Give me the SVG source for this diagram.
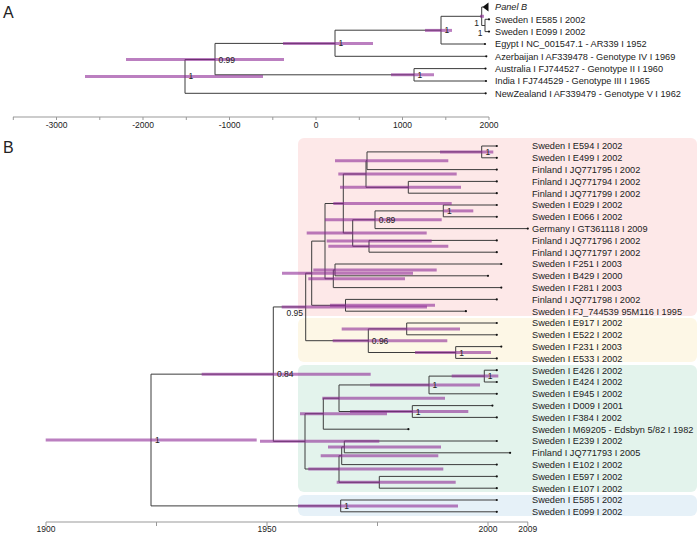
<svg xmlns="http://www.w3.org/2000/svg" width="700" height="534" viewBox="0 0 700 534">
<style>
text{font-family:"Liberation Sans",Arial,Helvetica,sans-serif;fill:#222}
.tl{font-size:9.2px}
.nl{font-size:8.5px}
.ax{font-size:8.5px;text-anchor:middle}
.pl{font-size:16px}
.br{stroke:#3c3c3c;stroke-width:1;fill:none}
.axl{stroke:#999;stroke-width:1;fill:none}
.hpd{stroke:#8e2a96;stroke-width:3;stroke-opacity:0.6}
.d{fill:#111}
</style>
<rect width="700" height="534" fill="#fff"/>
<text class="pl" x="3" y="18.3">A</text>
<text class="pl" x="3" y="152.7">B</text>
<!-- backgrounds -->
<g id="clade-backgrounds">
<rect x="298" y="138" width="399" height="178" rx="6" fill="#fde8e8"/>
<rect x="298" y="318" width="399" height="44" rx="6" fill="#fdf7e6"/>
<rect x="298" y="365" width="399" height="127" rx="6" fill="#e3f3ec"/>
<rect x="298" y="495" width="399" height="21" rx="6" fill="#e6f1f8"/>
</g>
<!-- axes -->
<g id="axis-a">
<path class="axl" d="M13,117H489 M13.3,117v3 M56.5,117v3 M99.8,117v3 M143,117v3 M186.3,117v3 M229.5,117v3 M272.8,117v3 M316,117v3 M359.3,117v3 M402.5,117v3 M445.8,117v3 M489,117v3"/>
<text class="ax" x="56.5" y="128">-3000</text>
<text class="ax" x="143" y="128">-2000</text>
<text class="ax" x="229.5" y="128">-1000</text>
<text class="ax" x="316" y="128">0</text>
<text class="ax" x="402.5" y="128">1000</text>
<text class="ax" x="489" y="128">2000</text>
</g>
<g id="axis-b">
<path class="axl" d="M46,522H528 M46,522v4 M156.5,522v4 M267,522v4 M377.5,522v4 M488,522v4 M527.8,522v4"/>
<text class="ax" x="46" y="532">1900</text>
<text class="ax" x="267" y="532">1950</text>
<text class="ax" x="488" y="532">2000</text>
<text class="ax" x="527.8" y="532">2009</text>
</g>
<!-- connectors -->
<g id="connectors">
<path class="br" d="M185,59.5V93.3 M185,59.5H215 M185,93.3H485.7 M215,43.4V74.8 M215,43.4H335 M215,74.8H414 M335,30.2V56.3 M335,30.2H441 M335,56.3H486.3 M441,16.3V44 M441,16.3H481.7 M441,44H485 M414,68.6V81 M414,68.6H485.5 M414,81H486 M481.7,7V25.5 M481.7,7H483 M481.7,25.5H485 M485,19.3V31.6 M485,19.3H489 M485,31.6H489"/>
<path class="br" d="M151,374.15V505.9 M151,374.15H273.3 M151,505.9H340.7
M273.3,306.95V441.35 M273.3,306.95H305.7 M273.3,441.35H305
M305.7,273.2V340.7 M305.7,273.2H311.7 M305.7,340.7H368.3
M311.7,241.1V305.3 M311.7,241.1H325 M311.7,305.3H345.5
M325,203.5V278.75 M325,203.5H343.3 M325,278.75H333.3
M343.3,174V233 M343.3,174H366 M343.3,233H352.7
M366,160.75V187.3 M366,160.75H367 M366,187.3H408.3
M367,151.9V169.6 M367,151.9H481.7 M367,169.6H496.8
M481.7,146V157.8 M481.7,146H496.8 M481.7,157.8H496.8
M408.3,181.4V193.2 M408.3,181.4H496.8 M408.3,193.2H496.8
M352.7,219.75V246.3 M352.7,219.75H375 M352.7,246.3H369
M375,210.9V228.6 M375,210.9H443.3 M375,228.6H527.8
M443.3,205V216.8 M443.3,205H496.8 M443.3,216.8H496.8
M369,240.4V252.2 M369,240.4H496.8 M369,252.2H496.8
M333.3,269.9V287.6 M333.3,269.9H335 M333.3,287.6H501.3
M335,264V275.8 M335,264H501.3 M335,275.8H488
M345.5,299.4V311.2 M345.5,299.4H496.8 M345.5,311.2H465.9
M368.3,328.9V352.5 M368.3,328.9H406.7 M368.3,352.5H455.7
M406.7,323V334.8 M406.7,323H496.8 M406.7,334.8H496.8
M455.7,346.6V358.4 M455.7,346.6H501.3 M455.7,358.4H496.8
M305,413.7V469 M305,413.7H323.3 M305,469H339
M323.3,398.2V429.2 M323.3,398.2H339 M323.3,429.2H408.4
M339,384.95V411.5 M339,384.95H429 M339,411.5H412.3
M429,376.1V393.8 M429,376.1H484.3 M429,393.8H496.8
M484.3,370.2V382 M484.3,370.2H496.8 M484.3,382H496.8
M412.3,405.6V417.4 M412.3,405.6H492.4 M412.3,417.4H496.8
M339,455.75V482.3 M339,455.75H341.7 M339,482.3H379.3
M341.7,446.9V464.6 M341.7,446.9H344.3 M341.7,464.6H496.8
M344.3,441V452.8 M344.3,441H496.8 M344.3,452.8H510.1
M379.3,476.4V488.2 M379.3,476.4H496.8 M379.3,488.2H496.8
M340.7,500V511.8 M340.7,500H496.8 M340.7,511.8H496.8"/>
</g>
<!-- Panel A internal nodes -->
<g id="a-root"><path class="hpd" d="M85,76.4H263"/><text class="nl" x="188.5" y="79.4">1</text></g>
<g id="a-n099"><path class="hpd" d="M126,59.5H284"/><text class="nl" x="218.5" y="62.5">0.99</text></g>
<g id="a-n335"><path class="hpd" d="M283,43.4H373"/><text class="nl" x="338.5" y="46.4">1</text></g>
<g id="a-n441"><path class="hpd" d="M425,30.4H452"/><text class="nl" x="444.5" y="33.4">1</text></g>
<g id="a-nai"><path class="hpd" d="M391,74.8H434"/><text class="nl" x="417.5" y="77.8">1</text></g>
<g id="a-np"><path class="hpd" d="M480,16.3H484"/><text class="nl" x="479" y="26" text-anchor="end">1</text></g>
<g id="a-nq"><text class="nl" x="482.5" y="36" text-anchor="end">1</text></g>
<!-- Panel A tips -->
<g id="a-panelb"><polygon points="482.5,7 488.5,2.5 488.5,11.5" fill="#111"/><text class="tl" x="495" y="10.3" font-style="italic">Panel B</text></g>
<g id="a-e585"><circle class="d" cx="489" cy="19.3" r="1.1"/><text class="tl" x="495" y="22.6">Sweden I E585 I 2002</text></g>
<g id="a-e099"><circle class="d" cx="489" cy="31.6" r="1.1"/><text class="tl" x="495" y="34.9">Sweden I E099 I 2002</text></g>
<g id="a-egypt"><circle class="d" cx="485" cy="44" r="1.1"/><text class="tl" x="495" y="47.3">Egypt I NC_001547.1 - AR339 I 1952</text></g>
<g id="a-azer"><circle class="d" cx="486.3" cy="56.3" r="1.1"/><text class="tl" x="495" y="59.6">Azerbaijan I AF339478 - Genotype IV I 1969</text></g>
<g id="a-austr"><circle class="d" cx="485.5" cy="68.6" r="1.1"/><text class="tl" x="495" y="71.9">Australia I FJ744527 - Genotype II I 1960</text></g>
<g id="a-india"><circle class="d" cx="486" cy="81" r="1.1"/><text class="tl" x="495" y="84.3">India I FJ744529 - Genotype III I 1965</text></g>
<g id="a-nz"><circle class="d" cx="485.7" cy="93.3" r="1.1"/><text class="tl" x="495" y="96.6">NewZealand I AF339479 - Genotype V I 1962</text></g>
<!-- Panel B internal nodes -->
<g id="b-root"><path class="hpd" d="M45.7,440H256.7"/><text class="nl" x="155" y="443">1</text></g>
<g id="b-n084"><path class="hpd" d="M201.7,374.15H370.7"/><text class="nl" x="277" y="377.2">0.84</text></g>
<g id="b-n095"><path class="hpd" d="M281.7,306.95H427"/><text class="nl" x="303" y="316" text-anchor="end">0.95</text></g>
<g id="b-d4"><path class="hpd" d="M282,273.2H413"/></g>
<g id="b-d3"><path class="hpd" d="M326.7,241.1H431.7"/></g>
<g id="b-d2"><path class="hpd" d="M333.3,203.5H451.7"/></g>
<g id="b-c4"><path class="hpd" d="M338.3,174H456.7"/></g>
<g id="b-c2"><path class="hpd" d="M335,160.75H448.3"/></g>
<g id="b-c1"><path class="hpd" d="M440,151.9H493.3"/><text class="nl" x="485.5" y="154.9">1</text></g>
<g id="b-c3"><path class="hpd" d="M340,187.3H461"/></g>
<g id="b-d1"><path class="hpd" d="M306.7,233H426.7"/></g>
<g id="b-n089"><path class="hpd" d="M325,219.75H441.7"/><text class="nl" x="378.8" y="222.8">0.89</text></g>
<g id="b-n56"><path class="hpd" d="M443.3,210.9H473.3"/><text class="nl" x="447" y="213.9">1</text></g>
<g id="b-n89b"><path class="hpd" d="M328.3,246.3H448.3"/></g>
<g id="b-e2"><path class="hpd" d="M308.3,278.75H405"/></g>
<g id="b-e1"><path class="hpd" d="M313.3,269.9H436.7"/></g>
<g id="b-f"><path class="hpd" d="M330,305.3H435"/></g>
<g id="b-yr"><path class="hpd" d="M332.7,340.7H447.3"/><text class="nl" x="371.8" y="343.7">0.96</text></g>
<g id="b-y1"><path class="hpd" d="M341.7,328.9H460"/></g>
<g id="b-y2"><path class="hpd" d="M415,352.5H491"/><text class="nl" x="459.2" y="355.5">1</text></g>
<g id="b-gr"><path class="hpd" d="M260,441.35H379.3"/></g>
<g id="b-g5"><path class="hpd" d="M300,413.7H387"/></g>
<g id="b-g4"><path class="hpd" d="M322.3,398.2H445"/></g>
<g id="b-g2"><path class="hpd" d="M370,384.95H480"/><text class="nl" x="432.5" y="388">1</text></g>
<g id="b-g1"><path class="hpd" d="M451.7,376.1H498.3"/><text class="nl" x="487.8" y="379.1">1</text></g>
<g id="b-g3"><path class="hpd" d="M350,411.5H468.3"/><text class="nl" x="415.8" y="414.5">1</text></g>
<g id="b-h4"><path class="hpd" d="M308.3,469H443.3"/></g>
<g id="b-h2"><path class="hpd" d="M320.7,455.75H438.3"/></g>
<g id="b-h1"><path class="hpd" d="M328,446.9H441"/></g>
<g id="b-h3"><path class="hpd" d="M336.7,482.3H455.7"/></g>
<g id="b-bl"><path class="hpd" d="M298,505.9H458"/><text class="nl" x="344.2" y="508.9">1</text></g>
<!-- Panel B tips -->
<g id="t-e594"><circle class="d" cx="496.8" cy="146" r="1.1"/><text class="tl" x="532" y="149.3">Sweden I E594 I 2002</text></g>
<g id="t-e499"><circle class="d" cx="496.8" cy="157.8" r="1.1"/><text class="tl" x="532" y="161.1">Sweden I E499 I 2002</text></g>
<g id="t-jq795"><circle class="d" cx="496.8" cy="169.6" r="1.1"/><text class="tl" x="532" y="172.9">Finland I JQ771795 I 2002</text></g>
<g id="t-jq794"><circle class="d" cx="496.8" cy="181.4" r="1.1"/><text class="tl" x="532" y="184.7">Finland I JQ771794 I 2002</text></g>
<g id="t-jq799"><circle class="d" cx="496.8" cy="193.2" r="1.1"/><text class="tl" x="532" y="196.5">Finland I JQ771799 I 2002</text></g>
<g id="t-e029"><circle class="d" cx="496.8" cy="205" r="1.1"/><text class="tl" x="532" y="208.3">Sweden I E029 I 2002</text></g>
<g id="t-e066"><circle class="d" cx="496.8" cy="216.8" r="1.1"/><text class="tl" x="532" y="220.1">Sweden I E066 I 2002</text></g>
<g id="t-germany"><circle class="d" cx="527.8" cy="228.6" r="1.1"/><text class="tl" x="532" y="231.9">Germany I GT361118 I 2009</text></g>
<g id="t-jq796"><circle class="d" cx="496.8" cy="240.4" r="1.1"/><text class="tl" x="532" y="243.7">Finland I JQ771796 I 2002</text></g>
<g id="t-jq797"><circle class="d" cx="496.8" cy="252.2" r="1.1"/><text class="tl" x="532" y="255.5">Finland I JQ771797 I 2002</text></g>
<g id="t-f251"><circle class="d" cx="501.3" cy="264" r="1.1"/><text class="tl" x="532" y="267.3">Sweden I F251 I 2003</text></g>
<g id="t-b429"><circle class="d" cx="488" cy="275.8" r="1.1"/><text class="tl" x="532" y="279.1">Sweden I B429 I 2000</text></g>
<g id="t-f281"><circle class="d" cx="501.3" cy="287.6" r="1.1"/><text class="tl" x="532" y="290.9">Sweden I F281 I 2003</text></g>
<g id="t-jq798"><circle class="d" cx="496.8" cy="299.4" r="1.1"/><text class="tl" x="532" y="302.7">Finland I JQ771798 I 2002</text></g>
<g id="t-fj744539"><circle class="d" cx="465.9" cy="311.2" r="1.1"/><text class="tl" x="532" y="314.5">Sweden I FJ_744539 95M116 I 1995</text></g>
<g id="t-e917"><circle class="d" cx="496.8" cy="323" r="1.1"/><text class="tl" x="532" y="326.3">Sweden I E917 I 2002</text></g>
<g id="t-e522"><circle class="d" cx="496.8" cy="334.8" r="1.1"/><text class="tl" x="532" y="338.1">Sweden I E522 I 2002</text></g>
<g id="t-f231"><circle class="d" cx="501.3" cy="346.6" r="1.1"/><text class="tl" x="532" y="349.9">Sweden I F231 I 2003</text></g>
<g id="t-e533"><circle class="d" cx="496.8" cy="358.4" r="1.1"/><text class="tl" x="532" y="361.7">Sweden I E533 I 2002</text></g>
<g id="t-e426"><circle class="d" cx="496.8" cy="370.2" r="1.1"/><text class="tl" x="532" y="373.5">Sweden I E426 I 2002</text></g>
<g id="t-e424"><circle class="d" cx="496.8" cy="382" r="1.1"/><text class="tl" x="532" y="385.3">Sweden I E424 I 2002</text></g>
<g id="t-e945"><circle class="d" cx="496.8" cy="393.8" r="1.1"/><text class="tl" x="532" y="397.1">Sweden I E945 I 2002</text></g>
<g id="t-d009"><circle class="d" cx="492.4" cy="405.6" r="1.1"/><text class="tl" x="532" y="408.9">Sweden I D009 I 2001</text></g>
<g id="t-f384"><circle class="d" cx="496.8" cy="417.4" r="1.1"/><text class="tl" x="532" y="420.7">Sweden I F384 I 2002</text></g>
<g id="t-m69205"><circle class="d" cx="408.4" cy="429.2" r="1.1"/><text class="tl" x="532" y="432.5">Sweden I M69205 - Edsbyn 5/82 I 1982</text></g>
<g id="t-e239"><circle class="d" cx="496.8" cy="441" r="1.1"/><text class="tl" x="532" y="444.3">Sweden I E239 I 2002</text></g>
<g id="t-jq793"><circle class="d" cx="510.1" cy="452.8" r="1.1"/><text class="tl" x="532" y="456.1">Finland I JQ771793 I 2005</text></g>
<g id="t-e102"><circle class="d" cx="496.8" cy="464.6" r="1.1"/><text class="tl" x="532" y="467.9">Sweden I E102 I 2002</text></g>
<g id="t-e597"><circle class="d" cx="496.8" cy="476.4" r="1.1"/><text class="tl" x="532" y="479.7">Sweden I E597 I 2002</text></g>
<g id="t-e107"><circle class="d" cx="496.8" cy="488.2" r="1.1"/><text class="tl" x="532" y="491.5">Sweden I E107 I 2002</text></g>
<g id="t-e585"><circle class="d" cx="496.8" cy="500" r="1.1"/><text class="tl" x="532" y="503.3">Sweden I E585 I 2002</text></g>
<g id="t-e099"><circle class="d" cx="496.8" cy="511.8" r="1.1"/><text class="tl" x="532" y="515.1">Sweden I E099 I 2002</text></g>
</svg>
